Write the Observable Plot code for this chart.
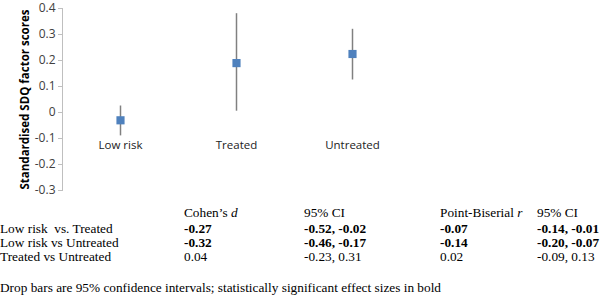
<!DOCTYPE html>
<html>
<head>
<meta charset="utf-8">
<script src="https://cdn.jsdelivr.net/npm/d3@7"></script>
<script src="https://cdn.jsdelivr.net/npm/@observablehq/plot@0.6"></script>
<style>
  html, body { margin: 0; padding: 0; background: #fff; }
  #chart svg { display: block; }
  table { border-collapse: collapse; table-layout: fixed; font-family: "Liberation Serif", "Times New Roman", serif; font-size: 13.3px; color: #000; margin-top: 6px; }
  td { padding: 0; line-height: 14px; white-space: nowrap; }
  tr.head td { padding-bottom: 2px; }
  .b { font-weight: bold; }
  #cap { font-family: "Liberation Serif", "Times New Roman", serif; font-size: 13.3px; margin-top: 17px; line-height: 14px; }
</style>
</head>
<body>
<div id="chart"></div>
<div id="tbl"></div>
<div id="cap"></div>
<script>
// Chart data
const groups = ["Low risk", "Treated", "Untreated"];
const means = [-0.03, 0.19, 0.225];
const ciLow = [-0.09, 0.005, 0.125];
const ciHigh = [0.025, 0.38, 0.32];
const yTicks = [-0.3, -0.2, -0.1, 0, 0.1, 0.2, 0.3, 0.4];
const yTickLabels = ["-0.3", "-0.2", "-0.1", "0", "0.1", "0.2", "0.3", "0.4"];
const yLabel = "Standardised SDQ factor scores";

// Table data
const headers = ["", "Cohen\u2019s <i>d</i>", "95% CI", "Point-Biserial <i>r</i>", "95% CI"];
const comparisons = ["Low risk&nbsp; vs. Treated", "Low risk vs Untreated", "Treated vs Untreated"];
const cohensD = ["-0.27", "-0.32", "0.04"];
const cohensCI = ["-0.52, -0.02", "-0.46, -0.17", "-0.23, 0.31"];
const pointBiserial = ["-0.07", "-0.14", "0.02"];
const pbCI = ["-0.14, -0.01", "-0.20, -0.07", "-0.09, 0.13"];
const significant = [true, true, false];
const caption = "Drop bars are 95% confidence intervals; statistically significant effect sizes in bold";

const data = groups.map((g, i) => ({group: g, mean: means[i], lo: ciLow[i], hi: ciHigh[i]}));

const chart = Plot.plot({
  width: 600,
  height: 200,
  marginLeft: 62,
  marginRight: 190,
  marginTop: 8,
  marginBottom: 10,
  style: {fontFamily: "'Open Sans', 'Liberation Sans', sans-serif", fontSize: "11px", color: "#404040", background: "#fff"},
  x: {type: "band", domain: groups, padding: 0, axis: null},
  y: {domain: [-0.3, 0.4], axis: null},
  marks: [
    Plot.frame({anchor: "left", stroke: "#bfbfbf"}),
    Plot.axisY({ticks: yTicks, tickFormat: (d) => yTickLabels[yTicks.indexOf(d)], tickSize: 4, tickPadding: 3, stroke: "#bfbfbf", fill: "#404040", fontSize: 12}),
    Plot.ruleX(data, {x: "group", y1: "lo", y2: "hi", stroke: "#808080", strokeWidth: 1.5}),
    Plot.dot(data, {x: "group", y: "mean", symbol: "square", r: 4.6, fill: "#4f81bd", stroke: null}),
    Plot.text(groups, {x: (d) => d, frameAnchor: "top", dy: 132, text: (d) => d, fill: "#222", fontSize: 11.5}),
    Plot.text([yLabel], {frameAnchor: "left", dx: -37, rotate: -90, text: (d) => d, fontWeight: "bold", fill: "#000", fontSize: 11.5, textAnchor: "middle", fontFamily: "'Liberation Sans Narrow', 'Open Sans', sans-serif"})
  ]
});
document.getElementById("chart").appendChild(chart);

// Table
const widths = [184, 120, 136, 97, 63];
let html = "<table><colgroup>" + widths.map(w => `<col style="width:${w}px">`).join("") + "</colgroup>";
html += `<tr class="head">${headers.map(h => `<td>${h}</td>`).join("")}</tr>`;
comparisons.forEach((c, i) => {
  const cls = significant[i] ? "b" : "";
  html += `<tr><td>${c}</td><td class="${cls}">${cohensD[i]}</td><td class="${cls}">${cohensCI[i]}</td><td class="${cls}">${pointBiserial[i]}</td><td class="${cls}">${pbCI[i]}</td></tr>`;
});
html += "</table>";
document.getElementById("tbl").innerHTML = html;
document.getElementById("cap").textContent = caption;
</script>
</body>
</html>
